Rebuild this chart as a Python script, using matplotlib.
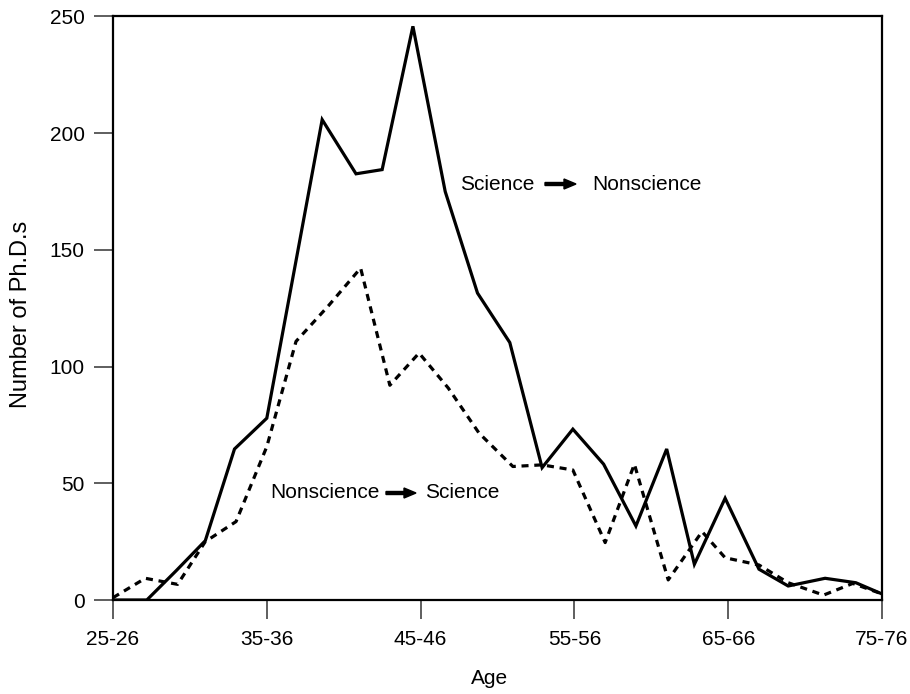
import matplotlib
matplotlib.use("Agg")
import matplotlib.pyplot as plt

plt.rcParams['font.family'] = ['Liberation Sans', 'DejaVu Sans']

# Science -> Nonscience (solid line)
sci_to_non_age = [25.0, 27.2, 29.1, 31.0, 32.9, 35.0, 36.8, 38.6, 40.8, 42.5, 44.5,
                  46.6, 48.7, 50.8, 52.9, 54.9, 56.9, 59.0, 61.0, 62.8, 64.8, 67.0,
                  68.9, 71.3, 73.3, 75.0]
sci_to_non = [0, 0, 12.5, 25.4, 64.7, 77.9, 141.8, 205.8, 182.6, 184.4, 245.8,
              175, 131.5, 110.3, 56.7, 73.2, 58.2, 31.7, 64.7, 15.3, 43.6, 13.2,
              6.0, 9.3, 7.4, 2.6]

# Nonscience -> Science (dashed line)
non_to_sci_age = [25.0, 27.1, 29.2, 31.0, 33.0, 35.0, 36.9, 39.0, 41.1, 43.0, 44.9,
                  46.8, 48.8, 51.0, 52.9, 54.9, 57.0, 58.9, 61.1, 63.3, 64.8, 67.0,
                  68.9, 71.2, 73.1, 75.0]
non_to_sci = [1.0, 9.3, 6.7, 25, 33.6, 65.7, 110.8, 126, 142.2, 92, 105.8,
              90.8, 71.5, 57.2, 57.9, 55.7, 24.6, 58.2, 8.6, 29.3, 18.1, 15,
              7.4, 2.1, 7.1, 2.6]

xtick_pos = [25, 35, 45, 55, 65, 75]
xtick_labels = ["25-26", "35-36", "45-46", "55-56", "65-66", "75-76"]
ytick_pos = [0, 50, 100, 150, 200, 250]

W, H = 910, 694
fig = plt.figure(figsize=(W / 100, H / 100), dpi=100)
ax = fig.add_axes([113 / W, 1 - 600 / H, (882 - 113) / W, (600 - 16.5) / H])

ax.plot(sci_to_non_age, sci_to_non, color='black', lw=2.3, solid_joinstyle='miter')
ax.plot(non_to_sci_age, non_to_sci, color='black', lw=2.3, linestyle=(0, (2.2, 1.8)))

ax.set_xlim(25, 75)
ax.set_ylim(0, 250)
ax.set_xticks(xtick_pos)
ax.set_xticklabels(xtick_labels)
ax.set_yticks(ytick_pos)

for s in ax.spines.values():
    s.set_linewidth(1.6)
ax.tick_params(direction='out', length=13.5, width=1.1, color='#333333', labelsize=15)
ax.tick_params(axis='x', pad=8)
ax.tick_params(axis='y', pad=7)

ax.set_xlabel("Age", fontsize=15)
ax.xaxis.set_label_coords((490 - 113) / (882 - 113), -(679 - 600) / (600 - 16.5))
ax.xaxis.label.set_va('center')
ax.set_ylabel("Number of Ph.D.s", fontsize=17)
ax.yaxis.set_label_coords(-(113 - 21) / (882 - 113), 0.49)
ax.yaxis.label.set_va('center')

def arrow_label(left, right, x_left_px, x_arrow0, x_arrow1, x_right_px, y_px):
    tr = fig.transFigure
    fig.text(x_left_px / W, 1 - y_px / H, left, fontsize=15, ha='left', va='center', transform=tr)
    fig.text(x_right_px / W, 1 - y_px / H, right, fontsize=15, ha='left', va='center', transform=tr)
    fig.patches.append(matplotlib.patches.FancyArrow(
        x_arrow0 / W, 1 - y_px / H, (x_arrow1 - x_arrow0) / W, 0,
        width=3 / H, head_width=10 / H, head_length=12 / W,
        length_includes_head=True, color='black', transform=tr))

arrow_label("Science", "Nonscience", 460, 545, 576, 592, 184)
arrow_label("Nonscience", "Science", 270, 386, 416, 425, 493)

fig.savefig("out.png", dpi=100)
